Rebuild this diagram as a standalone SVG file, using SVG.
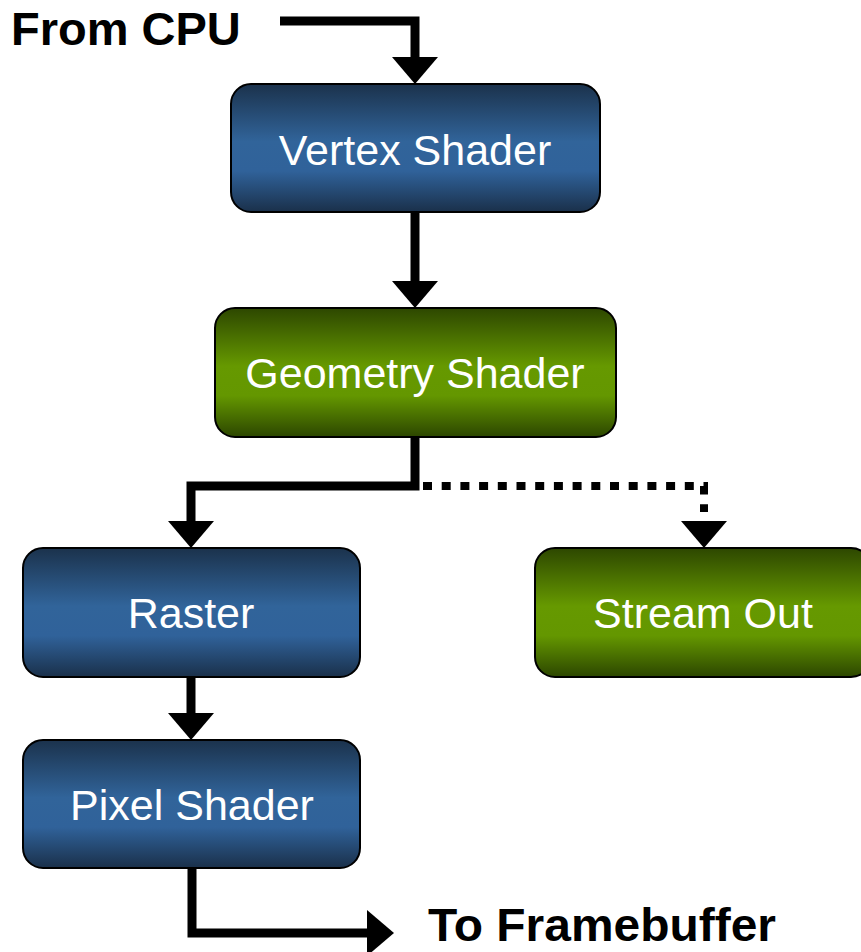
<svg xmlns="http://www.w3.org/2000/svg" width="861" height="952" viewBox="0 0 861 952">
<style>
.box{stroke:#000;stroke-width:2}
.blue{fill:url(#gBlue)}
.green{fill:url(#gGreen)}
.lbl{font-family:"Liberation Sans",Arial,sans-serif;font-size:43px;fill:#fff;text-anchor:middle}
.big{font-family:"Liberation Sans",Arial,sans-serif;font-size:47px;font-weight:bold;fill:#000}
.wire{fill:none;stroke:#000;stroke-width:9;stroke-linejoin:miter;stroke-linecap:butt}
.dot{stroke-width:8;stroke-dasharray:9 9.7}
</style>
<defs>
<linearGradient id="gBlue" x1="0" y1="0" x2="0" y2="1">
<stop offset="0" stop-color="#1b324c"/>
<stop offset="0.45" stop-color="#31649a"/>
<stop offset="0.68" stop-color="#30629a"/>
<stop offset="1" stop-color="#1a304a"/>
</linearGradient>
<linearGradient id="gGreen" x1="0" y1="0" x2="0" y2="1">
<stop offset="0" stop-color="#2d4700"/>
<stop offset="0.45" stop-color="#669900"/>
<stop offset="0.68" stop-color="#649700"/>
<stop offset="1" stop-color="#2c4600"/>
</linearGradient>
<marker id="arr" viewBox="0 0 27 46" markerWidth="27" markerHeight="46" refX="0" refY="23" orient="auto" markerUnits="userSpaceOnUse">
<path d="M0,0 L27,23 L0,46 z" fill="#000"/>
</marker>
</defs>
<g id="connectors">
<path class="wire" d="M280,21 H415 V57" marker-end="url(#arr)"/>
<path class="wire" d="M415,212 V281" marker-end="url(#arr)"/>
<path class="wire" d="M415,437 V486 H191 V521" marker-end="url(#arr)"/>
<path class="wire dot" d="M423,486 H704 V512"/>
<path class="wire" d="M704,512 V521" stroke-opacity="0" marker-end="url(#arr)"/>
<path class="wire" d="M191,677 V713" marker-end="url(#arr)"/>
<path class="wire" d="M192,868 V933 H367" marker-end="url(#arr)"/>
</g>
<g id="from-cpu"><text class="big" x="11" y="45">From CPU</text></g>
<g id="vertex-shader">
<rect class="box blue" x="231" y="84" width="369" height="128" rx="20"/>
<text class="lbl" x="415" y="165">Vertex Shader</text>
</g>
<g id="geometry-shader">
<rect class="box green" x="215" y="308" width="401" height="129" rx="20"/>
<text class="lbl" x="415" y="388">Geometry Shader</text>
</g>
<g id="raster">
<rect class="box blue" x="23" y="548" width="337" height="129" rx="20"/>
<text class="lbl" x="191" y="628">Raster</text>
</g>
<g id="stream-out">
<rect class="box green" x="535" y="548" width="336" height="129" rx="20"/>
<text class="lbl" x="703" y="628">Stream Out</text>
</g>
<g id="pixel-shader">
<rect class="box blue" x="23" y="740" width="337" height="128" rx="20"/>
<text class="lbl" x="192" y="820">Pixel Shader</text>
</g>
<g id="to-framebuffer"><text class="big" x="428" y="941" textLength="348" lengthAdjust="spacingAndGlyphs">To Framebuffer</text></g>
</svg>
